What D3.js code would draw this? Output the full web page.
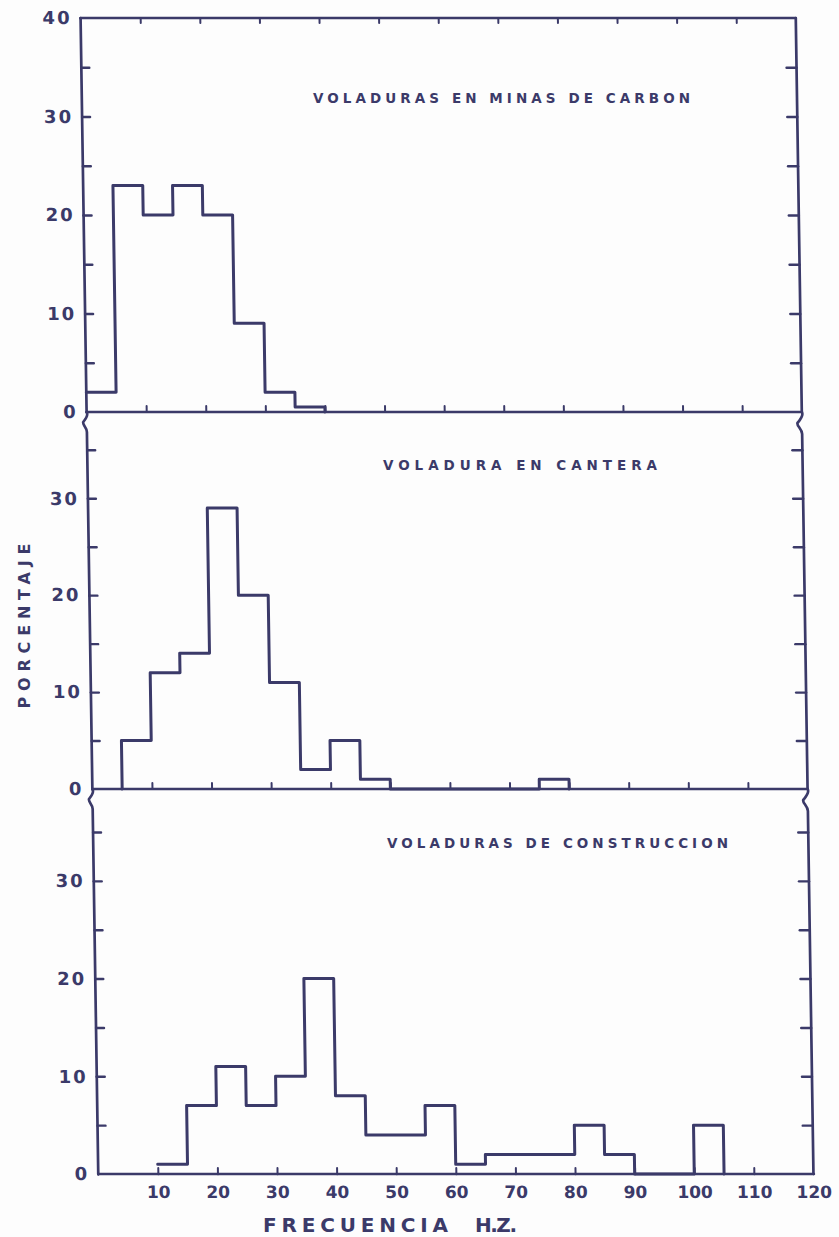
<!DOCTYPE html>
<html><head><meta charset="utf-8">
<script src="https://cdn.jsdelivr.net/npm/d3@7"></script>
<style>html,body{margin:0;padding:0;background:#fdfdfd;} svg{display:block;}</style>
</head><body><svg id="c" width="839" height="1237"></svg>
<script>
// ---- data ----
const panelTitles = ["VOLADURAS EN MINAS DE CARBON", "VOLADURA EN CANTERA", "VOLADURAS DE CONSTRUCCION"];
const carbonFreq = [0, 5, 10, 15, 20, 25, 30, 35, 40];
const carbonPct  = [2, 23, 20, 23, 20, 9, 2, 0.5, 0];
const canteraFreq = [5, 10, 15, 20, 25, 30, 35, 40, 45, 50, 75, 80];
const canteraPct  = [5, 12, 14, 29, 20, 11, 2, 5, 1, 0, 1, 0];
const construccionFreq = [10, 15, 20, 25, 30, 35, 40, 45, 55, 60, 65, 80, 85, 90, 100, 105];
const construccionPct  = [1, 7, 11, 7, 10, 20, 8, 4, 7, 1, 2, 5, 2, 0, 5, 0];
const freqTicks = [10, 20, 30, 40, 50, 60, 70, 80, 90, 100, 110];
const freqLabels = [10, 20, 30, 40, 50, 60, 70, 80, 90, 100, 110, 120];
const pctTicks = [5, 10, 15, 20, 25, 30, 35];
const pctLabelsTop = [0, 10, 20, 30, 40];
const pctLabels = [0, 10, 20, 30];
const xTitle = ["FRECUENCIA", "H.Z."];
const yTitle = "PORCENTAJE";

// ---- layout / style ----
const ink = "#3b3a69";
const font = "'DejaVu Sans', sans-serif";
const svg = d3.select("#c");
svg.append("rect").attr("width", 839).attr("height", 1237).attr("fill", "#fdfdfd");
const g = svg.append("g").attr("transform", "skewX(0.8766)");
const x = d3.scaleLinear().domain([0, 120]).range([80.3, 795.5]);

const series = [
  {f: carbonFreq, p: carbonPct},
  {f: canteraFreq, p: canteraPct},
  {f: construccionFreq, p: construccionPct}
];
const layout = [
  {top: 18,  zero: 412,  max: 40,   broken: false, riseFromBase: false, labels: pctLabelsTop, tx: 313, ty: 103, tw: 377},
  {top: 412, zero: 789,  max: 38.9, broken: true,  riseFromBase: true,  labels: pctLabels,    tx: 383, ty: 470, tw: 274},
  {top: 789, zero: 1174, max: 39.4, broken: true,  riseFromBase: false, labels: pctLabels,    tx: 387, ty: 848, tw: 341}
];

function styleAxis(sel, w) {
  sel.select(".domain").remove();
  sel.selectAll(".tick line").attr("stroke", ink).attr("stroke-width", w || 2.4).attr("stroke-linecap", "round");
  sel.selectAll(".tick text").attr("fill", ink).attr("font-family", font).attr("font-weight", "bold");
}

layout.forEach((L, i) => {
  const y = d3.scaleLinear().domain([0, L.max]).range([L.zero, L.top]);
  const pg = g.append("g");
  const x0 = x(0), x1 = x(120);

  // frame
  const frame = pg.append("g").attr("fill", "none").attr("stroke", ink)
    .attr("stroke-width", 2.7).attr("stroke-linejoin", "round").attr("stroke-linecap", "round");
  if (!L.broken) {
    frame.append("path").attr("d", `M${x0},${L.top}H${x1}`);
    frame.append("path").attr("d", `M${x0},${L.top}V${L.zero}`);
    frame.append("path").attr("d", `M${x1},${L.top}V${L.zero}`);
  } else {
    frame.append("path").attr("d", `M${x0},${L.top} c2,3 -1,7 -3.5,10 c-1,3 3.5,5 3.5,10 V${L.zero}`);
    frame.append("path").attr("d", `M${x1},${L.top} c2,3 -1,7 -4.5,11 c-1,3 4.5,6 4.5,11 V${L.zero}`);
  }
  frame.append("path").attr("d", `M${x0},${L.zero}H${x1}`);

  // left ticks
  pg.append("g").attr("transform", `translate(${x0},0)`)
    .call(d3.axisLeft(y).tickValues(pctTicks).tickSize(-8).tickFormat(""))
    .call(styleAxis);
  // left labels
  pg.append("g").attr("transform", `translate(${x0},0)`)
    .call(d3.axisLeft(y).tickValues(L.labels).tickSize(0).tickPadding(9).tickFormat(d3.format("d")))
    .call(styleAxis)
    .call(s => s.selectAll(".tick text").attr("font-size", 18).attr("letter-spacing", 2));
  // right ticks
  pg.append("g").attr("transform", `translate(${x1},0)`)
    .call(d3.axisRight(y).tickValues(pctTicks).tickSize(-10).tickFormat(""))
    .call(styleAxis);
  // bottom ticks (pointing up)
  pg.append("g").attr("transform", `translate(0,${L.zero})`)
    .call(d3.axisBottom(x).tickValues(freqTicks).tickSize(-6).tickFormat(""))
    .call(s => styleAxis(s, 2));
  if (!L.broken) {
    pg.append("g").attr("transform", `translate(0,${L.top})`)
      .call(d3.axisTop(x).tickValues(freqTicks).tickSize(-5).tickFormat(""))
      .call(s => styleAxis(s, 2));
  }
  if (i === layout.length - 1) {
    pg.append("g").attr("transform", `translate(0,${L.zero})`)
      .call(d3.axisBottom(x).tickValues(freqLabels).tickSize(0).tickPadding(12).tickFormat(d3.format("d")))
      .call(styleAxis)
      .call(s => s.selectAll(".tick text").attr("font-size", 17));
  }

  // step histogram
  const S = series[i];
  const pts = S.f.map((f, k) => [f, S.p[k]]);
  if (L.riseFromBase) pts.unshift([S.f[0], 0]);
  const line = d3.line().x(d => x(d[0])).y(d => y(d[1])).curve(d3.curveStepAfter);
  pg.append("path").datum(pts).attr("d", line)
    .attr("fill", "none").attr("stroke", ink).attr("stroke-width", 3)
    .attr("stroke-linejoin", "round").attr("stroke-linecap", "round");

  // panel title (screen coords)
  svg.append("text").attr("x", L.tx).attr("y", L.ty)
    .attr("font-family", font).attr("font-weight", "bold").attr("font-size", 13.5)
    .attr("fill", ink).attr("textLength", L.tw).attr("lengthAdjust", "spacing")
    .text(panelTitles[i]);
});

// axis titles
svg.append("text").attr("transform", "translate(30,626) rotate(-90)")
  .attr("text-anchor", "middle").attr("font-family", font).attr("font-weight", "bold")
  .attr("font-size", 16).attr("fill", ink).attr("textLength", 165).attr("lengthAdjust", "spacing")
  .text(yTitle);
svg.append("text").attr("x", 263).attr("y", 1232)
  .attr("font-family", font).attr("font-weight", "bold").attr("font-size", 20).attr("fill", ink)
  .attr("textLength", 185).attr("lengthAdjust", "spacing").text(xTitle[0]);
svg.append("text").attr("x", 475).attr("y", 1232)
  .attr("font-family", font).attr("font-weight", "bold").attr("font-size", 20).attr("fill", ink)
  .attr("textLength", 42).attr("lengthAdjust", "spacing").text(xTitle[1]);
</script>
</body></html>
